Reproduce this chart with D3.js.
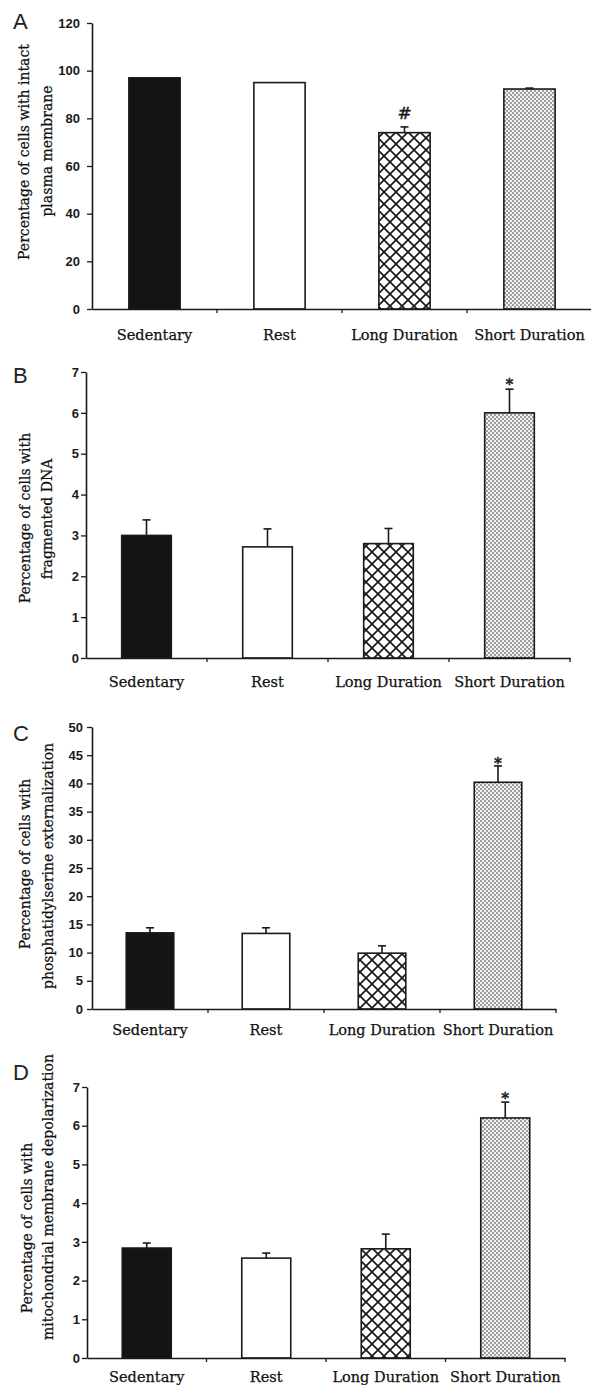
<!DOCTYPE html>
<html><head><meta charset="utf-8">
<script src="https://cdn.jsdelivr.net/npm/d3@7"></script>
<style>body{margin:0;background:#fff}svg{display:block}</style>
</head><body><svg id="c" width="591" height="1385"></svg>
<script>
// ---- data ----
const categories = ["Sedentary", "Rest", "Long Duration", "Short Duration"];

const membraneMeans = [97, 95, 74, 92.3];
const membraneErrors = [0, 0, 2.4, 0.4];
const membraneTicks = [0, 20, 40, 60, 80, 100, 120];
const membraneMarks = ["", "", "#", ""];

const dnaMeans = [3.0, 2.72, 2.8, 6.0];
const dnaErrors = [0.38, 0.44, 0.37, 0.58];
const dnaTicks = [0, 1, 2, 3, 4, 5, 6, 7];
const dnaMarks = ["", "", "", "*"];

const psMeans = [13.5, 13.4, 9.9, 40.2];
const psErrors = [0.9, 1.0, 1.3, 2.9];
const psTicks = [0, 5, 10, 15, 20, 25, 30, 35, 40, 45, 50];
const psMarks = ["", "", "", "*"];

const mitoMeans = [2.84, 2.58, 2.82, 6.2];
const mitoErrors = [0.13, 0.13, 0.38, 0.41];
const mitoTicks = [0, 1, 2, 3, 4, 5, 6, 7];
const mitoMarks = ["", "", "", "*"];

const panelLetters = ["A", "B", "C", "D"];
const yTitles = [
  ["Percentage of cells with intact", "plasma membrane"],
  ["Percentage of cells with", "fragmented DNA"],
  ["Percentage of cells with", "phosphatidylserine externalization"],
  ["Percentage of cells with", "mitochondrial membrane depolarization"]
];

// ---- layout ----
const layout = [
  {x0: 92, x1: 592, yTop: 23, yBot: 309, tickPad: 7, labelPad: 21, letterY: 21, titleX: [24, 47], titleY: [152, 151], markGap: 14},
  {x0: 86, x1: 570, yTop: 372, yBot: 658, tickPad: 2, labelPad: 19, letterY: 375, titleX: [25, 47], titleY: [518, 519], markGap: 11},
  {x0: 92, x1: 556, yTop: 727, yBot: 1009, tickPad: 4, labelPad: 16, letterY: 733, titleX: [25, 48], titleY: [864, 866], markGap: 9},
  {x0: 87, x1: 565, yTop: 1087, yBot: 1358, tickPad: 2, labelPad: 14, letterY: 1072, titleX: [27, 48], titleY: [1228, 1197], markGap: 10}
];

const panels = [
  {means: membraneMeans, errors: membraneErrors, ticks: membraneTicks, marks: membraneMarks},
  {means: dnaMeans, errors: dnaErrors, ticks: dnaTicks, marks: dnaMarks},
  {means: psMeans, errors: psErrors, ticks: psTicks, marks: psMarks},
  {means: mitoMeans, errors: mitoErrors, ticks: mitoTicks, marks: mitoMarks}
];

const svg = d3.select("#c");
svg.append("rect").attr("width", 591).attr("height", 1385).attr("fill", "#fff");

const defs = svg.append("defs");
const hatch = defs.append("pattern").attr("id", "hatch").attr("patternUnits", "userSpaceOnUse")
  .attr("width", 12).attr("height", 12);
hatch.append("rect").attr("width", 12).attr("height", 12).attr("fill", "#fff");
hatch.append("path").attr("d", "M-1,-1L13,13M13,-1L-1,13").attr("stroke", "#1a1a1a").attr("stroke-width", 1.7);
const dots = defs.append("pattern").attr("id", "dots").attr("patternUnits", "userSpaceOnUse")
  .attr("width", 4).attr("height", 4);
dots.append("rect").attr("width", 4).attr("height", 4).attr("fill", "#f2f2f2");
dots.append("circle").attr("cx", 1).attr("cy", 1).attr("r", 0.8).attr("fill", "#333");
dots.append("circle").attr("cx", 3).attr("cy", 3).attr("r", 0.8).attr("fill", "#333");

const fills = ["#141414", "#ffffff", "url(#hatch)", "url(#dots)"];
const ink = "#1a1a1a";
const serif = "'DejaVu Serif', serif";
const sans = "'Liberation Sans', Arial, sans-serif";

panels.forEach((p, i) => {
  const L = layout[i];
  const g = svg.append("g");
  const y = d3.scaleLinear().domain([0, d3.max(p.ticks)]).range([L.yBot, L.yTop]);
  const xOuter = d3.scaleBand().domain(categories).range([L.x0, L.x1]);
  const xBar = d3.scaleBand().domain(categories).range([L.x0, L.x1]).paddingInner(0.59).paddingOuter(0.295);

  // bars
  g.selectAll("rect.bar").data(categories).join("rect").attr("class", "bar")
    .attr("x", d => xBar(d)).attr("width", xBar.bandwidth())
    .attr("y", (d, k) => y(p.means[k])).attr("height", (d, k) => y(0) - y(p.means[k]))
    .attr("fill", (d, k) => fills[k]).attr("stroke", ink).attr("stroke-width", 1.6);

  // error bars
  const cx = d => xBar(d) + xBar.bandwidth() / 2;
  const top = d => { const k = categories.indexOf(d); return y(p.means[k] + p.errors[k]); };
  const eb = g.selectAll("g.err").data(categories.filter((d, k) => p.errors[k] > 0)).join("g").attr("class", "err");
  eb.append("line").attr("x1", cx).attr("x2", cx)
    .attr("y1", d => y(p.means[categories.indexOf(d)])).attr("y2", top)
    .attr("stroke", ink).attr("stroke-width", 1.6);
  eb.append("line").attr("x1", d => cx(d) - 4).attr("x2", d => cx(d) + 4)
    .attr("y1", top).attr("y2", top)
    .attr("stroke", ink).attr("stroke-width", 1.6);

  // significance marks
  const mk = d => p.marks[categories.indexOf(d)];
  g.selectAll("text.mark").data(categories.filter((d, k) => p.marks[k])).join("text").attr("class", "mark")
    .attr("x", cx)
    .attr("y", d => top(d) - L.markGap)
    .attr("dy", d => mk(d) === "#" ? "0.35em" : "0.72em")
    .attr("text-anchor", "middle")
    .attr("font-family", serif)
    .attr("font-size", d => mk(d) === "#" ? 17 : 15)
    .attr("font-weight", d => mk(d) === "#" ? "normal" : "bold")
    .attr("fill", ink).attr("stroke", ink).attr("stroke-width", 0.4)
    .text(mk);

  // y axis
  const ya = g.append("g").attr("transform", `translate(${L.x0},0)`)
    .call(d3.axisLeft(y).tickValues(p.ticks).tickSize(5).tickSizeOuter(0).tickPadding(L.tickPad).tickFormat(d3.format("d")));
  ya.select(".domain").attr("stroke", ink).attr("stroke-width", 1.6);
  ya.selectAll(".tick line").attr("stroke", ink).attr("stroke-width", 1.3);
  ya.selectAll(".tick text").attr("font-family", sans).attr("font-size", 13).attr("font-weight", "bold").attr("fill", "#1a1a1a");

  // x axis
  const xa = g.append("g").attr("transform", `translate(0,${L.yBot})`)
    .call(d3.axisBottom(xOuter).tickSize(0).tickSizeOuter(0).tickPadding(L.labelPad));
  xa.select(".domain").attr("stroke", ink).attr("stroke-width", 1.6);
  xa.selectAll(".tick text").attr("font-family", serif).attr("font-size", 14.5).attr("fill", "#111")
    .attr("stroke", "#111").attr("stroke-width", 0.25);
  xa.selectAll("line.div").data(categories).join("line").attr("class", "div")
    .attr("x1", d => xOuter(d) + xOuter.step()).attr("x2", d => xOuter(d) + xOuter.step())
    .attr("y1", 0).attr("y2", 4).attr("stroke", ink).attr("stroke-width", 1.3);

  // panel letter
  g.append("text").attr("x", 13).attr("y", L.letterY).attr("dy", "0.35em")
    .attr("font-family", sans).attr("font-size", 22).attr("fill", "#222").text(panelLetters[i]);

  // y title
  yTitles[i].forEach((t, j) => {
    g.append("text").attr("transform", `translate(${L.titleX[j]},${L.titleY[j]}) rotate(-90)`)
      .attr("text-anchor", "middle").attr("dominant-baseline", "central")
      .attr("font-family", serif).attr("font-size", 14).attr("fill", "#111")
      .attr("stroke", "#111").attr("stroke-width", 0.25).text(t);
  });
});
</script>
</body></html>
